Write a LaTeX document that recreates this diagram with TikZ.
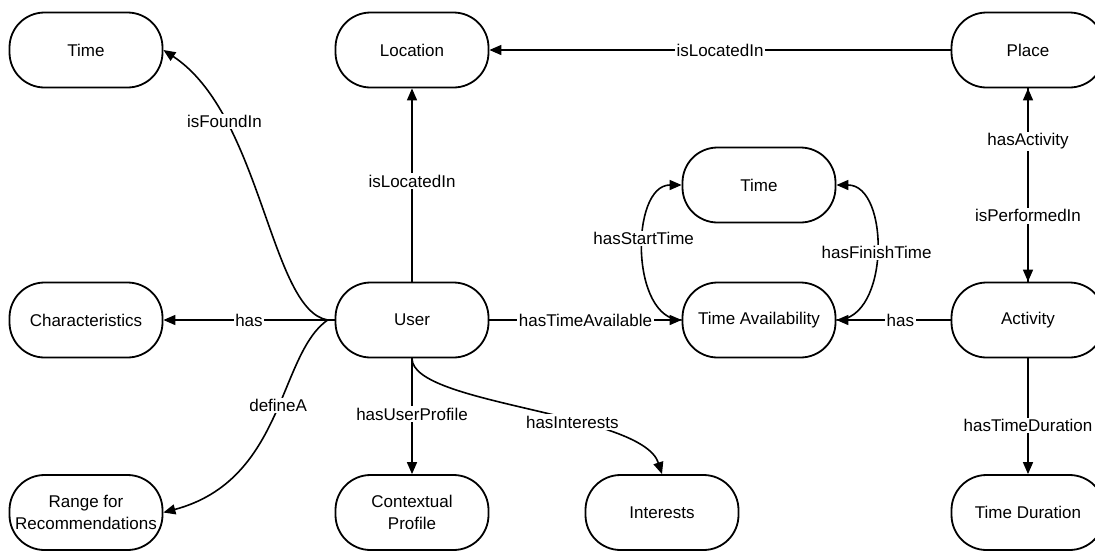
\documentclass[tikz,border=0pt]{standalone}
\usepackage{fontspec}
\setmainfont{Liberation Sans}
\usetikzlibrary{arrows.meta}
\begin{document}
\begin{tikzpicture}[x=1pt,y=-1pt,
  box/.style={draw,line width=1.8pt,rounded corners=35pt,minimum width=153pt,minimum height=75pt,align=center,font=\fontsize{17}{22}\selectfont},
  conn/.style={line width=1.6pt,-{Triangle[length=12pt,width=10pt]}},
  lbl/.style={fill=white,inner sep=1.5pt,font=\fontsize{17}{20}\selectfont}]
\useasboundingbox (0,0) rectangle (1095,550);
\fill[white] (0,0) rectangle (1095,550);
\clip (0,0) rectangle (1095,550);

\node[box] (timeA) at (86,50) {Time};
\node[box] (loc) at (412,50) {Location};
\node[box] (place) at (1028,50) {Place};
\node[box] (timeB) at (759,185) {Time};
\node[box] (charac) at (86,320) {Characteristics};
\node[box] (user) at (412,320) {User};
\node[box] (ta) at (759,320) {Time Availability};
\node[box] (act) at (1028,320) {Activity};
\node[box] (range) at (86,512.5) {Range for\\Recommendations};
\node[box] (ctx) at (412,512.5) {Contextual\\Profile};
\node[box] (int) at (662,512.5) {Interests};
\node[box] (td) at (1028,512.5) {Time Duration};

\coordinate (uw) at ([xshift=-7pt]user.west);
\draw[line width=1.6pt] (user.west) -- (uw);
\draw[conn] (uw) .. controls (270,310) and (262,115) .. node[lbl,pos=0.74]{isFoundIn} (timeA.east);
\draw[conn] (user) -- node[lbl,pos=0.52]{isLocatedIn} (loc);
\draw[conn] (place) -- node[lbl]{isLocatedIn} (loc);
\draw[conn] (user) -- node[lbl]{has} (charac);
\draw[conn] (uw) .. controls (278,355) and (285,480) .. node[lbl,pos=0.45]{defineA} (range.east);
\draw[conn] (user) -- node[lbl,pos=0.48]{hasUserProfile} (ctx);
\draw[conn] (user.south) .. controls (412,405) and (642,412) .. node[lbl,pos=0.62]{hasInterests} (int.north);
\draw[conn] (user) -- node[lbl]{hasTimeAvailable} (ta);
\draw[conn] (ta.west) .. controls (630,320) and (630,185) .. node[lbl,pos=0.57]{hasStartTime} (timeB.west);
\draw[conn] (ta.east) .. controls (890,320) and (890,185) .. node[lbl,pos=0.5]{hasFinishTime} (timeB.east);
\draw[conn] (act) -- node[lbl,pos=0.44]{has} (ta);
\draw[conn] (act) -- (place);
\draw[conn] (place) -- (act);
\path (act) -- node[lbl,pos=0.725]{hasActivity} (place);
\path (place) -- node[lbl,pos=0.66]{isPerformedIn} (act);
\draw[conn] (act) -- node[lbl,pos=0.58]{hasTimeDuration} (td);
\end{tikzpicture}
\end{document}
